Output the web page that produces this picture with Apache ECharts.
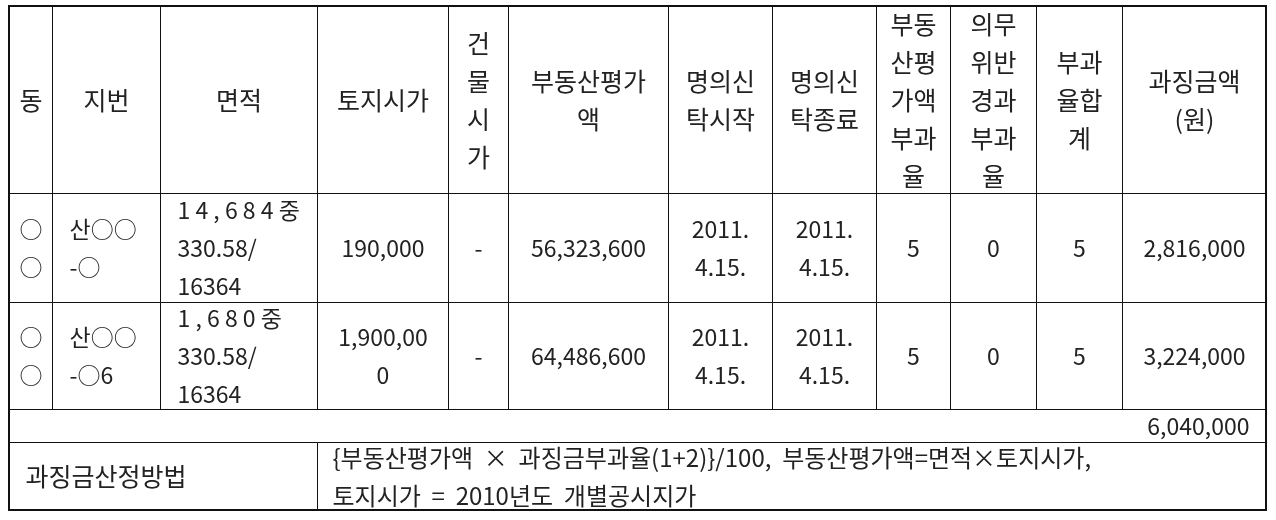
<!DOCTYPE html>
<html><head><meta charset="utf-8">
<script src="https://cdn.jsdelivr.net/npm/echarts@6/dist/echarts.min.js"></script>
<style>html,body{margin:0;padding:0;background:#fff}#c{width:1276px;height:520px}</style>
</head><body><div id="c"></div>
<script>
// Header labels (column categories)
const headers = ['동', '지번', '면적', '토지시가', '건\n물\n시\n가', '부동산평가\n액', '명의신\n탁시작', '명의신\n탁종료', '부동\n산평\n가액\n부과\n율', '의무\n위반\n경과\n부과\n율', '부과\n율합\n계', '과징금액\n(원)'];
// Row values per column
const dong = ['○\n○', '○\n○'];
const jibun = ['산○○\n-○', '산○○\n-○6'];
const area = ['1 4 , 6 8 4 중\n330.58/\n16364', '1 , 6 8 0 중\n330.58/\n16364'];
const landPrice = ['190,000', '1,900,00\n0'];
const buildingPrice = ['-', '-'];
const appraisal = ['56,323,600', '64,486,600'];
const trustStart = ['2011.\n4.15.', '2011.\n4.15.'];
const trustEnd = ['2011.\n4.15.', '2011.\n4.15.'];
const rateAppraisal = ['5', '5'];
const rateViolation = ['0', '0'];
const rateSum = ['5', '5'];
const penalty = ['2,816,000', '3,224,000'];
const total = '6,040,000';
const methodLabel = '과징금산정방법';
const methodText = '{부동산평가액  ×  과징금부과율(1+2)}/100,  부동산평가액=면적×토지시가,\n토지시가  =  2010년도  개별공시지가';

const columns = [dong, jibun, area, landPrice, buildingPrice, appraisal, trustStart, trustEnd, rateAppraisal, rateViolation, rateSum, penalty];

// layout (kept separate from data)
const colWidths = [43, 108, 157, 131, 60, 160, 104, 104, 74, 86, 86, 144];
const rowHeights = [109, 107, 33, 68];
const leftAligned = [false, true, true, false, false, false, false, false, false, false, false, false];

const font = "'Noto Sans CJK KR', 'Noto Sans', sans-serif";
const bodyData = [];
columns.forEach((col, c) => {
  col.forEach((v, r) => {
    bodyData.push({
      coord: [c, r],
      value: v,
      label: leftAligned[c] ? { position: 'insideLeft', distance: 14, align: 'left' } : {}
    });
  });
});
bodyData.push({ coord: [[0, 11], 2], mergeCells: true, value: total, label: { position: 'insideRight', distance: 14, align: 'right', lineHeight: 26 } });
bodyData.push({ coord: [[0, 2], 3], mergeCells: true, value: methodLabel, label: { position: 'insideLeft', distance: 13, align: 'left', fontSize: 25 } });
bodyData.push({ coord: [[3, 11], 3], mergeCells: true, value: methodText, label: { position: 'insideLeft', distance: 12, align: 'left', fontSize: 24, lineHeight: 38 } });

const chart = echarts.init(document.getElementById('c'));
chart.setOption({
  backgroundColor: '#fff',
  textStyle: { fontFamily: font },
  matrix: {
    left: 9, top: 6, width: 1257, height: 504,
    backgroundStyle: { color: '#fff', borderColor: '#111', borderWidth: 2 },
    x: {
      show: true,
      levelSize: 187,
      levels: [{ levelSize: 187 }],
      data: headers.map((h, i) => ({ value: h, size: colWidths[i] })),
      label: { color: '#222', fontSize: 25, lineHeight: 38, fontFamily: font, overflow: 'none', lineOverflow: 'none' },
      itemStyle: { color: '#fff', borderColor: '#111', borderWidth: 1 },
      dividerLineStyle: { color: '#111', width: 1 }
    },
    y: {
      show: false,
      data: rowHeights.map((h, i) => ({ value: 'r' + i, size: h }))
    },
    body: {
      data: bodyData,
      label: { color: '#222', fontSize: 23, lineHeight: 38, fontFamily: font, overflow: 'none', lineOverflow: 'none' },
      itemStyle: { color: '#fff', borderColor: '#111', borderWidth: 1 }
    }
  }
});
</script>
</body></html>
